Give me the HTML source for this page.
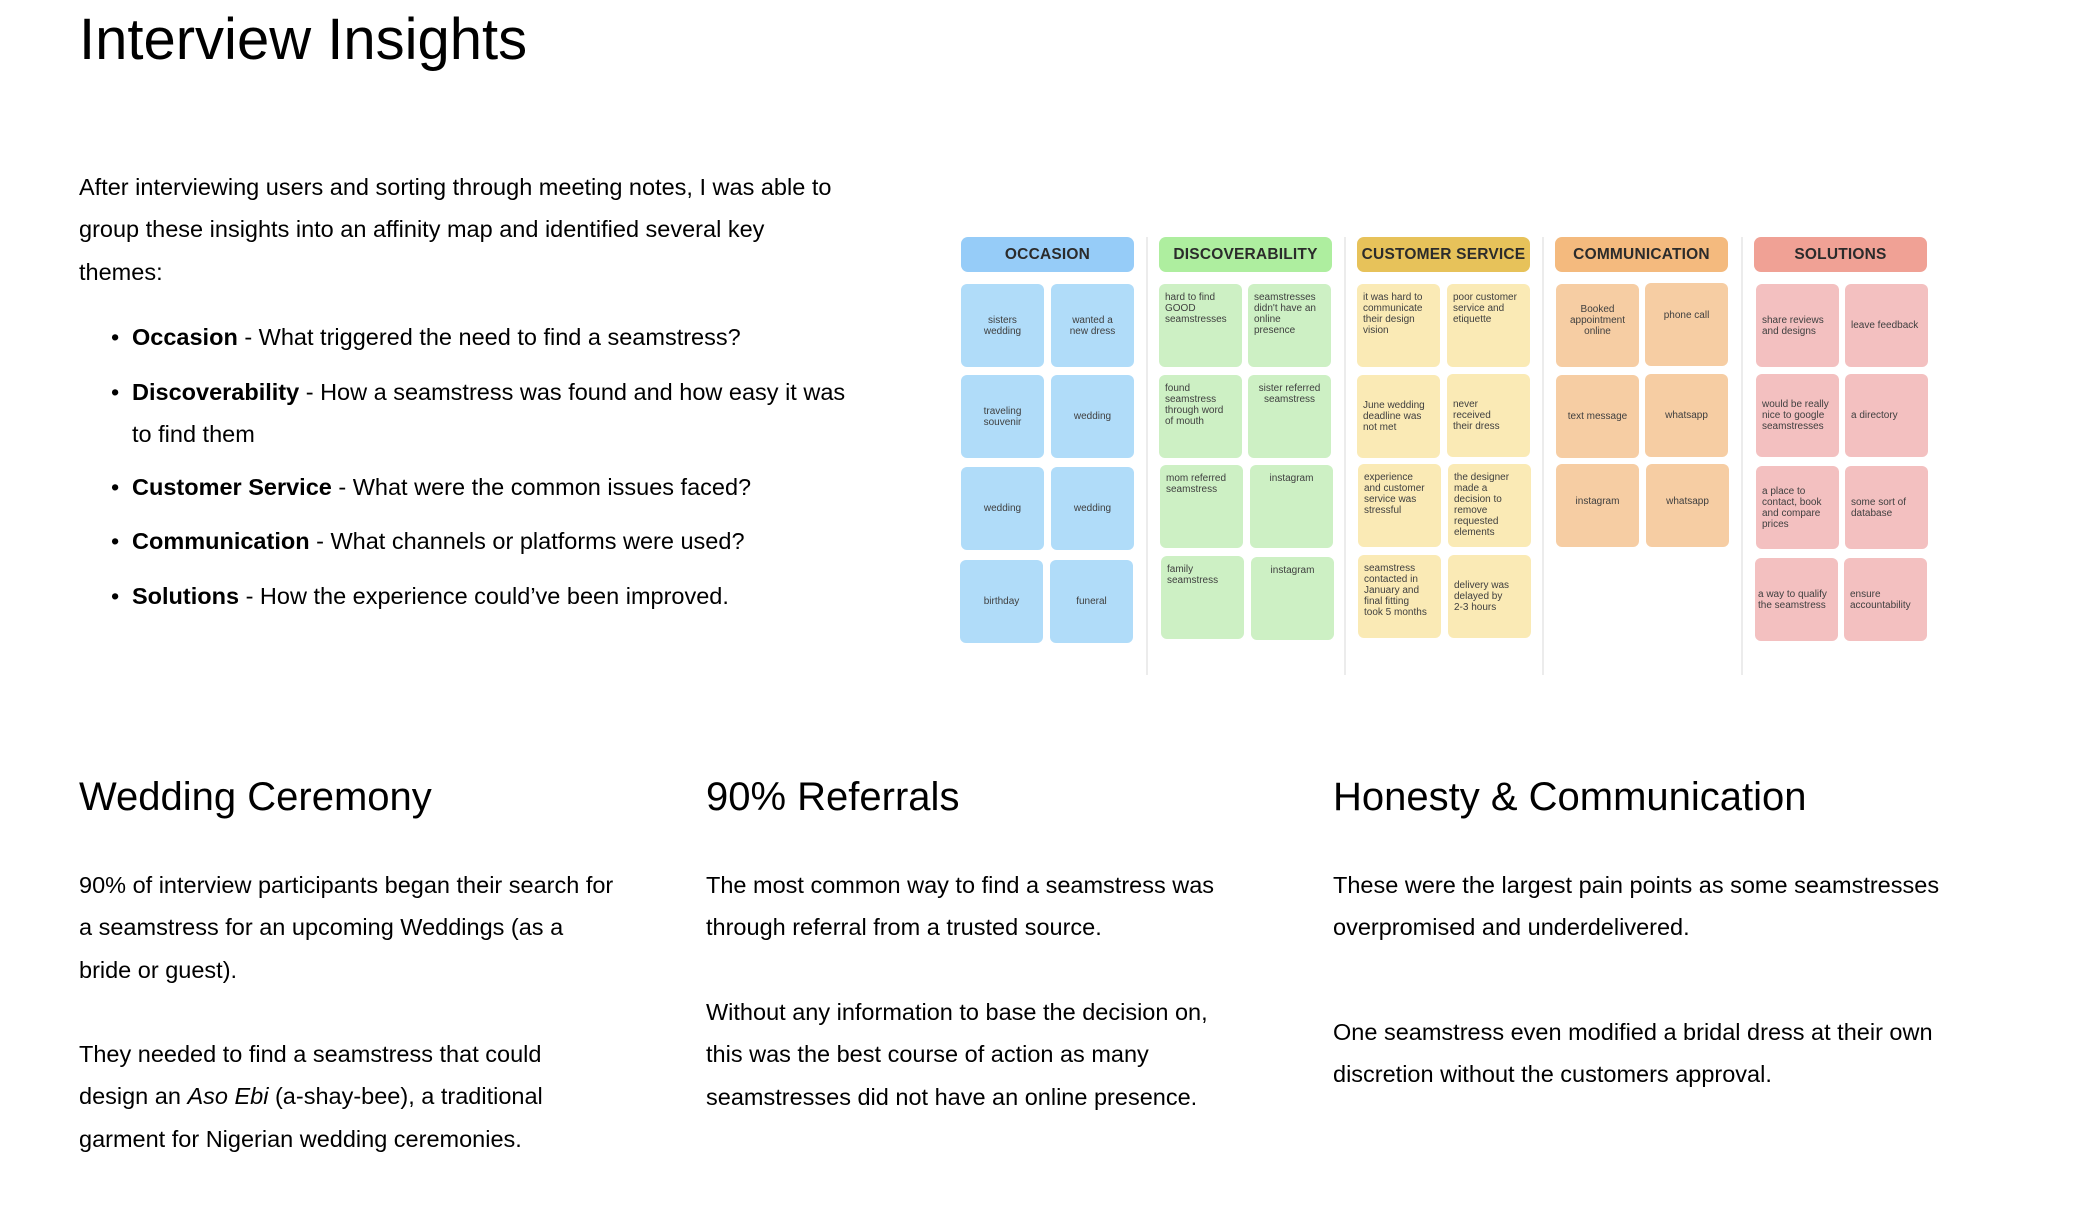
<!DOCTYPE html>
<html><head><meta charset="utf-8"><style>
*{margin:0;padding:0;box-sizing:border-box}
body{width:2096px;height:1214px;background:#fff;position:relative;overflow:hidden;font-family:"Liberation Sans",Arial,sans-serif;color:#000}
.a{position:absolute;white-space:nowrap}
.p{font-size:23.5px;line-height:42.3px}
.h{font-size:40px;line-height:48px}
.bul{font-size:23.5px;line-height:42.3px}
.bul:before{content:"•";position:absolute;left:-21px;top:0;font-size:23.5px;line-height:42.3px}
.hd{position:absolute;height:35px;width:173px;border-radius:7px;font-weight:bold;font-size:15.5px;line-height:35px;text-align:center;color:#2b2b2b;letter-spacing:.2px}
.st{position:absolute;width:83px;height:83px;border-radius:6px;font-size:10px;line-height:11px;color:#3f3f3f;display:flex;padding:8px 6px}
.c{align-items:center;justify-content:center;text-align:center}
.t{align-items:flex-start;justify-content:flex-start;text-align:left}
.tc{align-items:flex-start;justify-content:center;text-align:center}
.m{align-items:center;justify-content:flex-start;text-align:left}
.dv{position:absolute;top:237px;width:2px;height:438px;background:#ececec}
</style></head><body>
<div class="a" style="left:79px;top:7px;font-size:58px;line-height:66px">Interview Insights</div>
<div class="a p" style="left:79px;top:166px">After interviewing users and sorting through meeting notes, I was able to<br>group these insights into an affinity map and identified several key<br>themes:</div>
<div class="a bul" style="left:132px;top:316px"><b>Occasion</b> - What triggered the need to find a seamstress?</div>
<div class="a bul" style="left:132px;top:371px"><b>Discoverability</b> - How a seamstress was found and how easy it was<br>to find them</div>
<div class="a bul" style="left:132px;top:466px"><b>Customer Service</b> - What were the common issues faced?</div>
<div class="a bul" style="left:132px;top:520px"><b>Communication</b> - What channels or platforms were used?</div>
<div class="a bul" style="left:132px;top:575px"><b>Solutions</b> - How the experience could’ve been improved.</div>

<div class="a h" style="left:79px;top:773px">Wedding Ceremony</div>
<div class="a h" style="left:706px;top:773px">90% Referrals</div>
<div class="a h" style="left:1333px;top:773px">Honesty &amp; Communication</div>
<div class="a p" style="left:79px;top:864px">90% of interview participants began their search for<br>a seamstress for an upcoming Weddings (as a<br>bride or guest).</div>
<div class="a p" style="left:79px;top:1033px">They needed to find a seamstress that could<br>design an <i>Aso Ebi</i> (a-shay-bee), a traditional<br>garment for Nigerian wedding ceremonies.</div>
<div class="a p" style="left:706px;top:864px">The most common way to find a seamstress was<br>through referral from a trusted source.</div>
<div class="a p" style="left:706px;top:991px">Without any information to base the decision on,<br>this was the best course of action as many<br>seamstresses did not have an online presence.</div>
<div class="a p" style="left:1333px;top:864px">These were the largest pain points as some seamstresses<br>overpromised and underdelivered.</div>
<div class="a p" style="left:1333px;top:1011px">One seamstress even modified a bridal dress at their own<br>discretion without the customers approval.</div>

<div class="dv" style="left:1146px"></div>
<div class="dv" style="left:1344px"></div>
<div class="dv" style="left:1542px"></div>
<div class="dv" style="left:1741px"></div>

<div class="hd" style="left:961px;top:237px;background:#96ccf8">OCCASION</div>
<div class="hd" style="left:1159px;top:237px;background:#aeee9f">DISCOVERABILITY</div>
<div class="hd" style="left:1357px;top:237px;background:#e7c25a">CUSTOMER SERVICE</div>
<div class="hd" style="left:1555px;top:237px;background:#f4ba7e">COMMUNICATION</div>
<div class="hd" style="left:1754px;top:237px;background:#f0a195">SOLUTIONS</div>

<div class="st c" style="left:961px;top:284px;background:#b0dcf9">sisters<br>wedding</div>
<div class="st c" style="left:1051px;top:284px;background:#b0dcf9">wanted a<br>new dress</div>
<div class="st c" style="left:961px;top:375px;background:#b0dcf9">traveling<br>souvenir</div>
<div class="st c" style="left:1051px;top:375px;background:#b0dcf9">wedding</div>
<div class="st c" style="left:961px;top:467px;background:#b0dcf9">wedding</div>
<div class="st c" style="left:1051px;top:467px;background:#b0dcf9">wedding</div>
<div class="st c" style="left:960px;top:560px;background:#b0dcf9">birthday</div>
<div class="st c" style="left:1050px;top:560px;background:#b0dcf9">funeral</div>

<div class="st t" style="left:1159px;top:284px;background:#cdf0c4">hard to find<br>GOOD<br>seamstresses</div>
<div class="st t" style="left:1248px;top:284px;background:#cdf0c4">seamstresses<br>didn't have an<br>online<br>presence</div>
<div class="st t" style="left:1159px;top:375px;background:#cdf0c4">found<br>seamstress<br>through word<br>of mouth</div>
<div class="st tc" style="left:1248px;top:375px;background:#cdf0c4">sister referred<br>seamstress</div>
<div class="st t" style="left:1160px;top:465px;background:#cdf0c4">mom referred<br>seamstress</div>
<div class="st tc" style="left:1250px;top:465px;background:#cdf0c4">instagram</div>
<div class="st t" style="left:1161px;top:556px;background:#cdf0c4">family<br>seamstress</div>
<div class="st tc" style="left:1251px;top:557px;background:#cdf0c4">instagram</div>

<div class="st t" style="left:1357px;top:284px;background:#faeab5">it was hard to<br>communicate<br>their design<br>vision</div>
<div class="st t" style="left:1447px;top:284px;background:#faeab5">poor customer<br>service and<br>etiquette</div>
<div class="st m" style="left:1357px;top:375px;background:#faeab5">June wedding<br>deadline was<br>not met</div>
<div class="st m" style="left:1447px;top:374px;background:#faeab5">never<br>received<br>their dress</div>
<div class="st t" style="left:1358px;top:464px;background:#faeab5">experience<br>and customer<br>service was<br>stressful</div>
<div class="st t" style="left:1448px;top:464px;background:#faeab5">the designer<br>made a<br>decision to<br>remove<br>requested<br>elements</div>
<div class="st t" style="left:1358px;top:555px;background:#faeab5">seamstress<br>contacted in<br>January and<br>final fitting<br>took 5 months</div>
<div class="st m" style="left:1448px;top:555px;background:#faeab5">delivery was<br>delayed by<br>2-3 hours</div>

<div class="st tc" style="left:1556px;top:284px;background:#f6cda3;padding-top:20px">Booked<br>appointment<br>online</div>
<div class="st c" style="left:1645px;top:283px;background:#f6cda3;padding-bottom:26px">phone call</div>
<div class="st c" style="left:1556px;top:375px;background:#f6cda3">text message</div>
<div class="st c" style="left:1645px;top:374px;background:#f6cda3">whatsapp</div>
<div class="st c" style="left:1556px;top:464px;background:#f6cda3;padding-bottom:16px">instagram</div>
<div class="st c" style="left:1646px;top:464px;background:#f6cda3;padding-bottom:16px">whatsapp</div>

<div class="st m" style="left:1756px;top:284px;background:#f3c0c0">share reviews<br>and designs</div>
<div class="st m" style="left:1845px;top:284px;background:#f3c0c0">leave feedback</div>
<div class="st m" style="left:1756px;top:374px;background:#f3c0c0">would be really<br>nice to google<br>seamstresses</div>
<div class="st m" style="left:1845px;top:374px;background:#f3c0c0">a directory</div>
<div class="st m" style="left:1756px;top:466px;background:#f3c0c0">a place to<br>contact, book<br>and compare<br>prices</div>
<div class="st m" style="left:1845px;top:466px;background:#f3c0c0">some sort of<br>database</div>
<div class="st m" style="left:1755px;top:558px;background:#f3c0c0;padding-left:3px">a way to qualify<br>the seamstress</div>
<div class="st m" style="left:1844px;top:558px;background:#f3c0c0">ensure<br>accountability</div>
</body></html>
